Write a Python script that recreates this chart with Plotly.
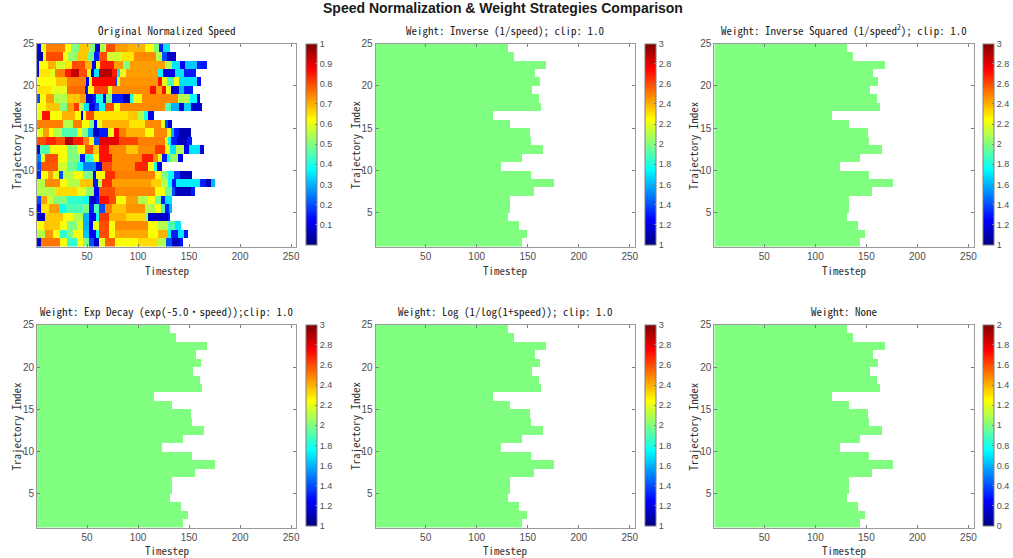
import numpy as np
import plotly.graph_objects as go

# ---------------- data ----------------
traj_index = list(range(1, 25))          # rows (bottom -> top), cell spans [i, i+1]
# length (end timestep) of each trajectory, bottom row first
traj_end = [144, 149, 142, 131, 133, 133, 156, 176, 153, 124, 144, 165,
            153, 152, 133, 116, 163, 161, 154, 162, 157, 168, 137, 131]

# normalized speed, per trajectory as (segment_end_timestep, value), bottom row first
speed_r01 = [(5,.07),(24,.76),(30,.62),(40,.42),(46,.62),(52,.5),(57,.2),(62,.07),(68,.6),(77,.78),(100,.62),(120,.66),(127,.55),(133,.2),(141,.06),(144,.15)]
speed_r02 = [(9,.55),(17,.73),(24,.62),(30,.42),(36,.5),(46,.62),(52,.32),(59,.12),(62,.38),(72,.8),(77,.62),(110,.71),(120,.62),(129,.7),(132,.38),(139,.15),(145,.35),(149,.15)]
speed_r03 = [(8,.62),(24,.68),(30,.62),(40,.5),(46,.6),(52,.3),(56,.12),(62,.6),(72,.8),(77,.62),(110,.74),(120,.62),(129,.55),(136,.45),(142,.35)]
speed_r04 = [(9,.08),(26,.68),(36,.62),(46,.55),(52,.3),(59,.12),(62,.38),(72,.82),(88,.7),(107,.66),(110,.5),(129,.07),(131,.15)]
speed_r05 = [(5,.12),(13,.65),(23,.72),(29,.38),(46,.45),(52,.5),(57,.15),(62,.45),(68,.2),(75,.75),(88,.68),(107,.73),(117,.55),(123,.62),(126,.45),(130,.15),(133,.3)]
speed_r06 = [(5,.2),(11,.72),(17,.58),(30,.5),(46,.42),(52,.38),(59,.07),(62,.15),(72,.86),(78,.8),(88,.62),(100,.72),(110,.55),(117,.62),(123,.48),(126,.15),(133,.35)]
speed_r07 = [(20,.55),(40,.66),(49,.6),(57,.52),(62,.12),(77,.8),(117,.74),(126,.62),(133,.48),(136,.2),(152,.06),(156,.15)]
speed_r08 = [(9,.55),(24,.74),(30,.62),(43,.55),(56,.68),(61,.15),(65,.55),(75,.83),(113,.72),(123,.67),(129,.55),(133,.38),(137,.15),(161,.36),(167,.15),(172,.06),(176,.3)]
speed_r09 = [(5,.15),(12,.62),(17,.72),(23,.6),(26,.2),(37,.55),(46,.62),(56,.5),(59,.12),(68,.62),(77,.83),(117,.75),(123,.62),(129,.5),(135,.38),(141,.18),(153,.06)]
speed_r10 = [(5,.2),(22,.79),(30,.58),(40,.48),(46,.38),(59,.25),(65,.1),(75,.8),(97,.74),(110,.84),(116,.62),(119,.4),(124,.12)]
speed_r11 = [(5,.25),(9,.6),(22,.8),(30,.62),(43,.5),(48,.15),(56,.42),(62,.62),(75,.86),(104,.74),(115,.85),(120,.74),(124,.6),(128,.15),(131,.38),(139,.52),(144,.12)]
speed_r12 = [(4,.08),(14,.45),(30,.62),(40,.5),(48,.62),(56,.8),(62,.68),(72,.86),(88,.74),(100,.68),(117,.74),(126,.82),(131,.62),(137,.35),(145,.55),(150,.12),(161,.35),(165,.1)]
speed_r13 = [(10,.8),(20,.84),(28,.8),(36,.95),(46,.85),(52,.75),(57,.62),(62,.2),(81,.9),(100,.81),(126,.75),(129,.6),(132,.38),(138,.15),(148,.06),(153,.15)]
speed_r14 = [(7,.6),(13,.72),(17,.62),(25,.55),(40,.45),(45,.62),(51,.5),(56,.3),(62,.07),(71,.15),(76,.6),(81,.87),(88,.75),(107,.7),(116,.62),(128,.74),(132,.6),(135,.3),(140,.15),(152,.05)]
speed_r15 = [(26,.75),(36,.55),(45,.75),(52,.62),(57,.5),(60,.12),(65,.6),(91,.7),(107,.65),(123,.74),(126,.6),(129,.2),(133,.08)]
speed_r16 = [(6,.6),(14,.86),(25,.62),(38,.7),(44,.62),(46,.12),(49,.62),(57,.8),(90,.65),(100,.68),(106,.55),(110,.4),(116,.1)]
speed_r17 = [(10,.62),(24,.68),(30,.5),(37,.72),(42,.82),(47,.55),(52,.35),(58,.1),(62,.2),(68,.38),(76,.8),(82,.62),(126,.74),(132,.45),(140,.3),(145,.08),(152,.33),(163,.08)]
speed_r18 = [(4,.2),(10,.62),(18,.72),(30,.55),(43,.68),(49,.72),(56,.08),(59,.15),(66,.4),(69,.12),(75,.5),(85,.15),(92,.05),(95,.4),(104,.62),(139,.74),(151,.55),(158,.38),(161,.1)]
speed_r19 = [(15,.65),(30,.6),(48,.77),(51,.15),(57,.62),(71,.81),(75,.6),(112,.74),(118,.86),(124,.72),(127,.86),(132,.6),(140,.08),(145,.3),(154,.15)]
speed_r20 = [(20,.62),(30,.68),(49,.75),(52,.1),(55,.6),(77,.87),(79,.2),(82,.6),(120,.73),(124,.86),(128,.6),(135,.45),(140,.62),(158,.35),(162,.12)]
speed_r21 = [(3,.1),(14,.65),(19,.6),(28,.75),(34,.85),(42,.93),(50,.8),(54,.6),(57,.1),(62,.35),(75,.95),(79,.85),(82,.35),(88,.6),(120,.72),(125,.38),(136,.1),(145,.35),(157,.15)]
speed_r22 = [(3,.1),(12,.62),(20,.7),(28,.58),(35,.65),(48,.8),(55,.7),(59,.1),(63,.6),(76,.85),(85,.72),(92,.5),(126,.72),(133,.55),(141,.35),(146,.12),(158,.32),(168,.15)]
speed_r23 = [(7,.05),(10,.6),(26,.8),(31,.62),(40,.52),(50,.68),(57,.48),(62,.15),(70,.8),(84,.58),(96,.65),(118,.74),(124,.55),(128,.2),(137,.07)]
speed_r24 = [(5,.1),(10,.6),(28,.75),(34,.62),(42,.5),(52,.68),(58,.5),(63,.08),(69,.55),(77,.8),(90,.72),(107,.7),(116,.62),(121,.5),(125,.15),(131,.35)]

speed_rows = [speed_r01, speed_r02, speed_r03, speed_r04, speed_r05, speed_r06,
              speed_r07, speed_r08, speed_r09, speed_r10, speed_r11, speed_r12,
              speed_r13, speed_r14, speed_r15, speed_r16, speed_r17, speed_r18,
              speed_r19, speed_r20, speed_r21, speed_r22, speed_r23, speed_r24]

# weight strategies: constant weight value over valid timesteps, colour limits
weight_titles = ["Weight: Inverse (1/speed); clip: 1.0",
                 "Weight: Inverse Squared (1/speed<sup>2</sup>); clip: 1.0",
                 "Weight: Exp Decay (exp(-5.0・speed));clip: 1.0",
                 "Weight: Log (1/log(1+speed)); clip: 1.0",
                 "Weight: None"]
weight_value = [2.0, 2.0, 2.0, 2.0, 1.0]
weight_clim = [(1, 3), (1, 3), (1, 3), (1, 3), (0, 2)]
weight_ticks = [[1, 1.2, 1.4, 1.6, 1.8, 2, 2.2, 2.4, 2.6, 2.8, 3]] * 4 + \
               [[0, 0.2, 0.4, 0.6, 0.8, 1, 1.2, 1.4, 1.6, 1.8, 2]]
speed_ticks = [0.1, 0.2, 0.3, 0.4, 0.5, 0.6, 0.7, 0.8, 0.9, 1]

x_ticks = [50, 100, 150, 200, 250]
y_ticks = [5, 10, 15, 20, 25]
n_cols = 254   # timestep cells 1..254, cell t spans [t, t+1]

# ---------------- build grids ----------------
t_edges = np.arange(1, n_cols + 1)
x_centers = t_edges + 0.5
y_centers = np.array(traj_index) + 0.5

speed_z = np.full((len(traj_index), n_cols), np.nan)
for r, segs in enumerate(speed_rows):
    start = 1
    for end, val in segs:
        mask = (x_centers >= start) & (x_centers < end)
        speed_z[r, mask] = val
        start = end

valid = ~np.isnan(speed_z)

jet = [[0.0, "rgb(0,0,128)"], [0.125, "rgb(0,0,255)"], [0.375, "rgb(0,255,255)"],
       [0.625, "rgb(255,255,0)"], [0.875, "rgb(255,0,0)"], [1.0, "rgb(128,0,0)"]]

W, H = 1013, 558
col_left = [37.3, 378.3, 719.3]
pw = 261.0
row_top = [39.0, 322.7]
row_bot = [244.0, 527.3]

def px(x):
    return x / W

def py(y):
    return 1 - y / H

mono = "Noto Sans Mono CJK SC, Liberation Mono, monospace"
sans = "Liberation Sans, Arial, sans-serif"
tick_col = "#4d4d4d"

fig = go.Figure()

panels = [("Original Normalized Speed", speed_z, (0, 1), speed_ticks)]
for i in range(5):
    zz = np.where(valid, weight_value[i], np.nan)
    panels.append((weight_titles[i], zz, weight_clim[i], weight_ticks[i]))

annotations = []
for k, (title, zz, clim, cticks) in enumerate(panels):
    r, c = divmod(k, 3)
    x0 = px(col_left[c])
    x1 = px(col_left[c] + pw)
    y1 = py(row_top[r])
    y0 = py(row_bot[r])
    xa = "xaxis" if k == 0 else f"xaxis{k+1}"
    ya = "yaxis" if k == 0 else f"yaxis{k+1}"
    xref = "x" if k == 0 else f"x{k+1}"
    yref = "y" if k == 0 else f"y{k+1}"
    fig.add_trace(go.Heatmap(
        x=x_centers, y=y_centers, z=zz, zmin=clim[0], zmax=clim[1],
        colorscale=jet, xaxis=xref, yaxis=yref, hoverongaps=False,
        colorbar=dict(
            x=px(col_left[c] + 271), xanchor="left", y=y1, yanchor="top",
            len=(row_bot[r] - row_top[r] - 2) / H, lenmode="fraction",
            thickness=11, thicknessmode="pixels", xpad=0, ypad=0,
            outlinewidth=1, outlinecolor="#7f7f7f",
            tickvals=cticks, ticktext=[f"{v:g}" for v in cticks],
            ticks="inside", ticklen=2, tickcolor="#7f7f7f",
            tickfont=dict(family=sans, size=9, color=tick_col)),
    ))
    axis_common = dict(showgrid=False, zeroline=False, showline=True, mirror="ticks",
                       linecolor="#9a9a9a", linewidth=1, ticks="inside", ticklen=3,
                       tickcolor="#7f7f7f",
                       tickfont=dict(family=sans, size=10, color=tick_col))
    fig.update_layout({
        xa: dict(domain=[x0, x1], range=[1, 255], tickvals=x_ticks, anchor=yref, **axis_common),
        ya: dict(domain=[y0, y1], range=[1, 25], tickvals=y_ticks, anchor=xref, **axis_common),
    })
    # subplot title
    annotations.append(dict(text=title, x=(x0 + x1) / 2, y=py(row_top[r] - 4),
                            xref="paper", yref="paper", xanchor="center", yanchor="bottom",
                            showarrow=False, font=dict(family=mono, size=11, color="#1a1a1a")))
    # x label
    annotations.append(dict(text="Timestep", x=(x0 + x1) / 2, y=py(row_bot[r] + 23),
                            xref="paper", yref="paper", xanchor="center", yanchor="middle",
                            showarrow=False, font=dict(family=mono, size=11, color="#333333")))
    # y label
    annotations.append(dict(text="Trajectory Index", x=px(col_left[c] - 21),
                            y=py((row_top[r] + row_bot[r]) / 2),
                            xref="paper", yref="paper", xanchor="center", yanchor="middle",
                            textangle=-90, showarrow=False,
                            font=dict(family=mono, size=11, color="#333333")))

annotations.append(dict(text="<b>Speed Normalization & Weight Strategies Comparison</b>",
                        x=px(506.5), y=py(3), xref="paper", yref="paper",
                        xanchor="center", yanchor="middle", showarrow=False,
                        font=dict(family=sans, size=14, color="#1a1a1a")))

fig.update_layout(width=W, height=H, margin=dict(l=0, r=0, t=0, b=0),
                  paper_bgcolor="white", plot_bgcolor="white",
                  annotations=annotations, showlegend=False)

fig.write_html("out.html", config={"displayModeBar": False},
               post_script="document.body.style.margin='0px';")
